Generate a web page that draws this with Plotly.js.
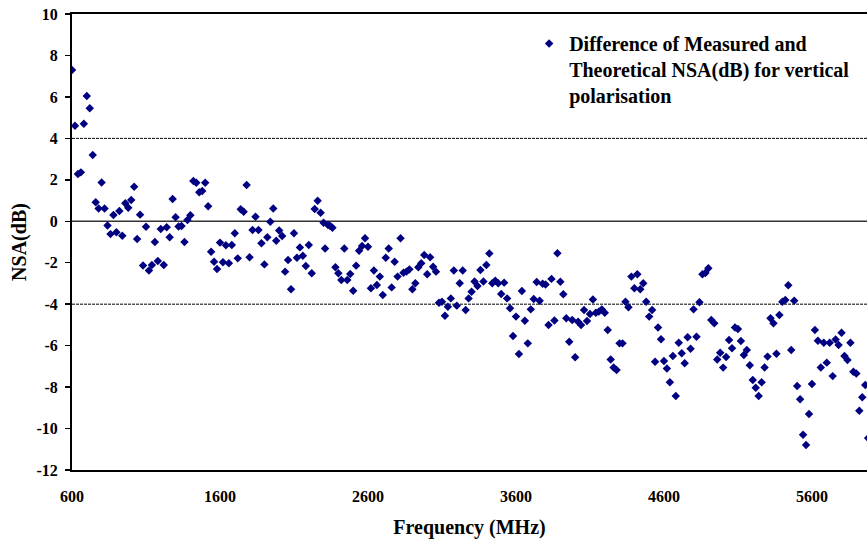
<!DOCTYPE html>
<html>
<head>
<meta charset="utf-8">
<script src="https://cdn.plot.ly/plotly-3.0.1.min.js"></script>
<style>html,body{margin:0;padding:0;background:#fff;}#chart{width:867px;height:543px;}</style>
</head>
<body>
<div id="chart"></div>
<script>
// Frequency (MHz)
const freq = [
600,620,640,660,680,700,720,740,760,780,800,820,840,860,880,900,920,940,960,980,
1000,1020,1040,1060,1080,1100,1120,1140,1160,1180,1200,1220,1240,1260,1280,1300,1320,1340,1360,1380,
1400,1420,1440,1460,1480,1500,1520,1540,1560,1580,1600,1620,1640,1660,1680,1700,1720,1740,1760,1780,
1800,1820,1840,1860,1880,1900,1920,1940,1960,1980,2000,2020,2040,2060,2080,2100,2120,2140,2160,2180,
2200,2220,2240,2260,2280,2300,2310,2330,2345,2360,2380,2400,2420,2440,2460,2480,2500,2520,2540,2560,
2580,2600,2620,2640,2660,2680,2700,2720,2740,2760,2780,2800,2820,2840,2860,2880,2900,2920,2940,2960,
2980,3000,3020,3040,3060,3080,3100,3120,3140,3160,3180,3200,3220,3240,3260,3280,3300,3320,3340,3360,
3380,3400,3420,3440,3460,3480,3500,3520,3540,3560,3580,3600,3620,3640,3660,3680,3700,3720,3740,3760,
3780,3800,3820,3840,3860,3880,3900,3920,3940,3960,3980,4000,4020,4040,4060,4080,4100,4120,4140,4160,
4180,4200,4220,4240,4260,4280,4300,4320,4340,4360,4380,4400,4420,4440,4460,4480,4500,4520,4540,4560,
4580,4600,4620,4640,4660,4680,4700,4720,4740,4760,4780,4800,4820,4840,4860,4880,4900,4920,4940,4960,
4980,5000,5020,5040,5060,5080,5100,5120,5140,5160,5180,5200,5220,5240,5260,5280,5300,5320,5340,5360,
5380,5400,5420,5440,5460,5480,5500,5520,5540,5560,5580,5600,5620,5640,5660,5680,5700,5720,5740,5760,
5780,5800,5820,5840,5860,5880,5900,5920,5940,5960,5980
];
// Difference of measured and theoretical NSA (dB), vertical polarisation
const nsaDiff = [
7.30,4.61,2.28,2.36,4.71,6.04,5.45,3.20,0.92,0.62,1.87,0.62,-0.20,-0.62,0.30,-0.53,0.50,-0.70,0.87,0.65,
1.03,1.67,-0.86,0.32,-2.13,-0.26,-2.38,-2.11,-1.00,-1.92,-0.37,-2.11,-0.29,-0.77,1.07,0.19,-0.25,-0.23,-1.00,0.06,
0.29,1.94,1.86,1.40,1.46,1.86,0.72,-1.47,-1.95,-2.30,-1.03,-1.98,-1.16,-2.03,-1.14,-0.58,-1.79,0.58,0.46,1.75,
-1.74,-0.42,0.22,-0.42,-1.06,-2.08,-0.77,-0.02,0.62,-0.94,-0.45,-0.71,-2.43,-1.87,-3.28,-0.58,-1.76,-1.26,-1.66,-2.16,
-1.14,-2.51,0.59,0.99,0.41,-0.07,-1.31,-0.18,-0.23,-0.31,-2.22,-2.51,-2.83,-1.31,-2.83,-2.54,-3.35,-2.14,-1.42,-1.19,
-0.82,-1.23,-3.23,-2.38,-3.07,-2.67,-3.56,-1.76,-1.31,-3.19,-1.95,-2.67,-0.82,-2.48,-2.43,-2.32,-3.28,-2.99,-2.22,-2.03,
-1.63,-2.56,-1.74,-2.19,-2.43,-3.93,-3.88,-4.56,-4.12,-3.72,-2.38,-4.07,-2.99,-2.38,-4.28,-3.72,-3.40,-2.91,-3.12,-2.35,
-2.91,-2.11,-1.55,-2.99,-2.87,-2.99,-3.51,-2.96,-3.72,-4.20,-5.54,-4.60,-6.40,-3.36,-4.80,-5.89,-4.25,-3.75,-2.93,-3.83,
-3.01,-3.05,-5.00,-2.78,-4.79,-1.54,-2.92,-3.52,-4.68,-5.81,-4.76,-6.56,-4.85,-5.01,-4.28,-4.81,-4.47,-3.77,-4.41,-4.36,
-4.25,-4.41,-5.25,-6.67,-7.05,-7.18,-5.89,-5.89,-3.88,-4.15,-2.67,-3.23,-2.56,-3.28,-2.99,-3.88,-4.60,-4.28,-6.78,-5.12,
-5.69,-6.74,-7.10,-7.77,-6.50,-8.43,-5.86,-6.37,-6.85,-5.60,-6.15,-4.25,-5.57,-3.91,-2.56,-2.50,-2.27,-4.76,-4.92,-6.67,
-6.34,-7.06,-6.55,-5.73,-6.13,-5.13,-5.20,-5.78,-6.45,-6.21,-6.95,-7.66,-8.03,-8.43,-7.77,-7.05,-6.53,-4.68,-4.92,-6.39,
-4.52,-3.88,-3.80,-3.09,-6.21,-3.83,-7.95,-8.59,-10.30,-10.79,-9.30,-7.85,-5.25,-5.76,-7.05,-5.86,-6.82,-5.86,-7.47,-5.70,
-5.97,-5.38,-6.50,-6.69,-5.86,-7.26,-7.34,-9.14,-8.49,-7.90,-10.46
];
const xTickVals = [600,1600,2600,3600,4600,5600];
const xTickText = ['600','1600','2600','3600','4600','5600'];
const yTickVals = [-12,-10,-8,-6,-4,-2,0,2,4,6,8,10];
const yTickText = ['-12','-10','-8','-6','-4','-2','0','2','4','6','8','10'];
const refLevels = [4,0,-4];
const seriesName = 'Difference of Measured and<br>Theoretical NSA(dB) for vertical<br>polarisation';

const FONT = 'Liberation Serif, Times New Roman, serif';

const trace = {
  type: 'scatter', mode: 'markers', x: freq, y: nsaDiff, name: seriesName,
  marker: {symbol: 'diamond', size: 6.5, color: '#000080', line: {width: 0}},
  showlegend: true, cliponaxis: true
};

const shapes = refLevels.map(v => ({
  type: 'line', xref: 'paper', yref: 'y', x0: 0, x1: 1, y0: v, y1: v,
  line: v === 0 ? {color: '#333', width: 1.5} : {color: '#000', width: 1, dash: '3px,1px'},
  layer: 'below'
}));

const layout = {
  width: 867, height: 543,
  margin: {l: 72, r: 0, t: 14, b: 73},
  paper_bgcolor: '#fff', plot_bgcolor: '#fff',
  font: {family: FONT, color: '#000', weight: 'bold'},
  showlegend: true,
  legend: {
    x: 0.575, y: 0.978, xanchor: 'left', yanchor: 'top', valign: 'top',
    font: {family: FONT, size: 20, color: '#000', weight: 'bold'},
    bgcolor: 'rgba(0,0,0,0)', borderwidth: 0, tracegroupgap: 0
  },
  xaxis: {
    range: [600, 5972], tickmode: 'array', tickvals: xTickVals, ticktext: xTickText,
    ticks: '', showgrid: false, zeroline: false,
    showline: true, linecolor: '#000', linewidth: 2, mirror: true,
    tickfont: {family: FONT, size: 16, weight: 'bold'}, ticklabelstandoff: 11,
    title: {text: 'Frequency (MHz)', font: {family: FONT, size: 20, weight: 'bold'}, standoff: 16},
    fixedrange: true
  },
  yaxis: {
    range: [-12, 10], tickmode: 'array', tickvals: yTickVals, ticktext: yTickText,
    ticks: 'outside', ticklen: 5, tickwidth: 1.5, tickcolor: '#000',
    showgrid: false, zeroline: false,
    showline: true, linecolor: '#000', linewidth: 2,
    tickfont: {family: FONT, size: 16, weight: 'bold'}, ticklabelstandoff: 4,
    title: {text: 'NSA(dB)', font: {family: FONT, size: 20, weight: 'bold'}, standoff: 4},
    fixedrange: true
  },
  shapes: shapes
};

Plotly.newPlot('chart', [trace], layout, {displayModeBar: false, staticPlot: true});
</script>
</body>
</html>
